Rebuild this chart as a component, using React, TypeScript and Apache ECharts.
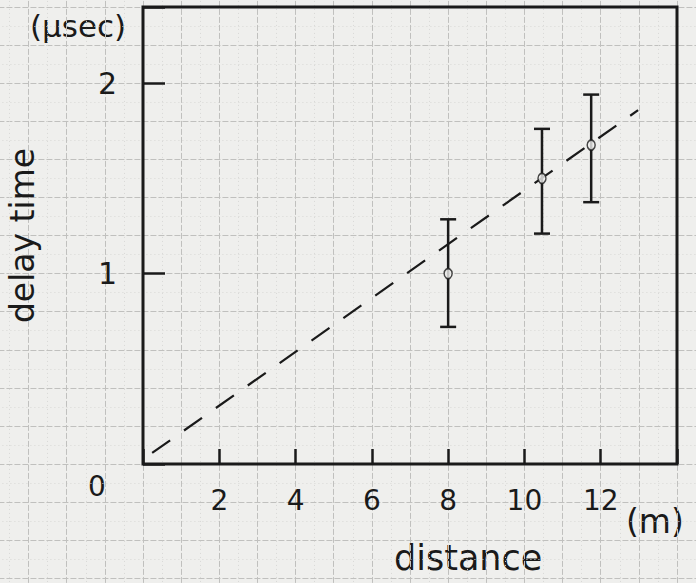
import React, { useEffect, useRef } from "react";
import * as echarts from "echarts";

// measured data (distance in m, delay time in μsec)
const pointX = [8.0, 10.46, 11.75];
const pointY = [1.0, 1.5, 1.675];
const errLow = [0.72, 1.21, 1.375];
const errHigh = [1.285, 1.76, 1.94];

// hand-drawn fit line (dashed)
const fitX = [0.24, 12.98];
const fitY = [0.058, 1.858];

const xTickLabels = ["2", "4", "6", "8", "10", "12"];
const yTickLabels = ["1", "2"];

const INK = "#1a1a1a";
const FONT = "'DejaVu Sans', 'Noto Sans', sans-serif";

export default function App() {
  const ref = useRef<HTMLDivElement>(null);
  useEffect(() => {
    if (!ref.current) return;
    const chart = echarts.init(ref.current, null, { renderer: "svg" });

    const unitX = 534 / 14;
    const unitY = 457 / 2.4;
    const bgStep = unitY * 0.2;

    const points = pointX.map((x, i) => [x, pointY[i]]);
    const errs = pointX.map((x, i) => [x, errLow[i], errHigh[i]]);
    const fit = fitX.map((x, i) => [x, fitY[i]]);

    chart.setOption({
      animation: false,
      backgroundColor: "#efefed",
      grid: [
        { left: 143, right: 19, top: 7, bottom: 119, show: true, borderColor: INK, borderWidth: 3, backgroundColor: "transparent", z: 3, outerBoundsMode: "none", containLabel: false },
        { left: 143 - 4 * unitX, width: 19 * unitX, top: 464 - 13 * bgStep, height: 17 * bgStep, show: false, outerBoundsMode: "none", containLabel: false },
      ],
      xAxis: [
        {
          gridIndex: 0, type: "value", min: 0, max: 14, interval: 2, z: 3,
          axisLine: { show: false },
          axisTick: { show: true, inside: true, length: 15, lineStyle: { color: INK, width: 2.5 } },
          axisLabel: {
            margin: 22, color: INK, fontSize: 28, fontFamily: FONT,
            formatter: (v: number) => (xTickLabels.includes(String(v)) ? String(v) : ""),
          },
          splitLine: { show: false },
        },
        {
          gridIndex: 1, type: "value", min: -4, max: 15, interval: 1, z: 0,
          axisLine: { show: false }, axisTick: { show: false }, axisLabel: { show: false },
          splitLine: { show: true, lineStyle: { color: "#c0c0be", width: 1, type: [6, 2] } },
          minorTick: { show: false, splitNumber: 2 },
          minorSplitLine: { show: true, lineStyle: { color: "#d8d8d6", width: 1, type: [1, 3] } },
        },
      ],
      yAxis: [
        {
          gridIndex: 0, type: "value", min: 0, max: 2.4, interval: 1, z: 3,
          axisLine: { show: false },
          axisTick: { show: true, inside: true, length: 22, lineStyle: { color: INK, width: 2.5 } },
          axisLabel: {
            margin: 26, color: INK, fontSize: 30, fontFamily: FONT,
            formatter: (v: number) => (yTickLabels.includes(String(v)) ? String(v) : ""),
          },
          splitLine: { show: false },
          name: "delay time", nameLocation: "middle", nameRotate: 90, nameGap: 104,
          nameTextStyle: { color: INK, fontSize: 33, fontFamily: FONT },
        },
        {
          gridIndex: 1, type: "value", min: -4, max: 13, interval: 1, z: 0,
          axisLine: { show: false }, axisTick: { show: false }, axisLabel: { show: false },
          splitLine: { show: true, lineStyle: { color: "#c0c0be", width: 1, type: [6, 2] } },
          minorTick: { show: false, splitNumber: 2 },
          minorSplitLine: { show: true, lineStyle: { color: "#d8d8d6", width: 1, type: [1, 3] } },
        },
      ],
      graphic: [
        { type: "text", left: 30, top: 10, style: { text: "(μsec)", fill: INK, font: `31px ${FONT}` } },
        { type: "text", left: 88, top: 472, style: { text: "0", fill: INK, font: `28px ${FONT}` } },
        { type: "text", left: 626, top: 505, style: { text: "(m)", fill: INK, font: `33px ${FONT}` } },
        { type: "text", left: 394, top: 540, style: { text: "distance", fill: INK, font: `35px ${FONT}` } },
      ],
      series: [
        {
          type: "line", xAxisIndex: 0, yAxisIndex: 0, data: fit, symbol: "none", z: 4,
          lineStyle: { color: INK, width: 2.2, type: [22, 17] },
        },
        {
          type: "custom", xAxisIndex: 0, yAxisIndex: 0, data: errs, z: 5,
          renderItem: (params: any, api: any) => {
            const x = api.value(0);
            const lo = api.coord([x, api.value(1)]);
            const hi = api.coord([x, api.value(2)]);
            const w = 8;
            const style = { stroke: INK, lineWidth: 2.5 };
            return {
              type: "group",
              children: [
                { type: "line", shape: { x1: lo[0], y1: lo[1], x2: hi[0], y2: hi[1] }, style },
                { type: "line", shape: { x1: lo[0] - w, y1: lo[1], x2: lo[0] + w, y2: lo[1] }, style },
                { type: "line", shape: { x1: hi[0] - w, y1: hi[1], x2: hi[0] + w, y2: hi[1] }, style },
              ],
            };
          },
        },
        {
          type: "scatter", xAxisIndex: 0, yAxisIndex: 0, data: points, z: 6,
          symbol: "circle", symbolSize: [8, 10],
          itemStyle: { color: "#efefed", borderColor: INK, borderWidth: 1.6 },
        },
      ],
    });
    return () => chart.dispose();
  }, []);
  return <div ref={ref} style={{ position: "absolute", left: 0, top: 0, width: 696, height: 583 }} />;
}
